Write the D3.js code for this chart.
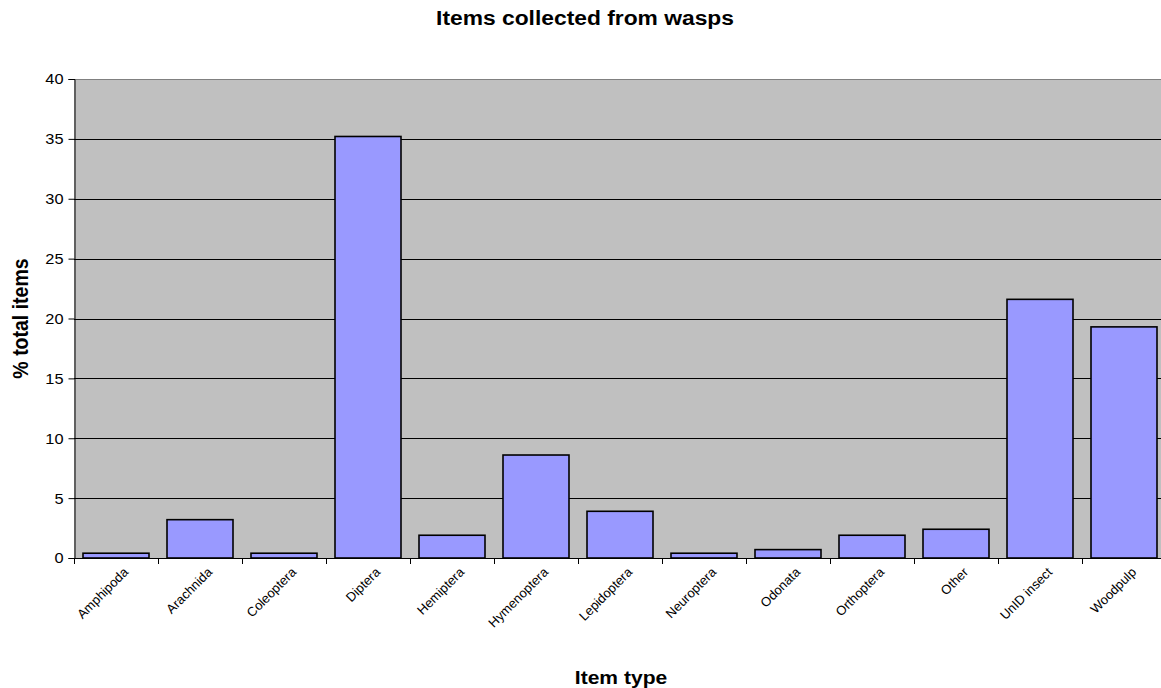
<!DOCTYPE html>
<html>
<head>
<meta charset="utf-8">
<script src="https://cdn.jsdelivr.net/npm/d3@7"></script>
<style>
  html, body { margin: 0; padding: 0; background: #ffffff; }
  svg { display: block; font-family: "Liberation Sans", Arial, sans-serif; }
</style>
</head>
<body>
<svg id="chart" width="1161" height="688"></svg>
<script>
// Item categories and their share of all items (%)
const categories = ["Amphipoda", "Arachnida", "Coleoptera", "Diptera", "Hemiptera",
  "Hymenoptera", "Lepidoptera", "Neuroptera", "Odonata", "Orthoptera", "Other",
  "UnID insect", "Woodpulp"];
const percentItems = [0.4, 3.2, 0.4, 35.2, 1.9, 8.6, 3.9, 0.4, 0.7, 1.9, 2.4, 21.6, 19.3];
const yTicks = [0, 5, 10, 15, 20, 25, 30, 35, 40];

const chartTitle = "Items collected from wasps";
const xTitle = "Item type";
const yTitle = "% total items";

// horizontal text stretch
const SX = 1.17;

const svg = d3.select("#chart");
const plot = { left: 74, top: 79, width: 1092, height: 479 };

const x = d3.scaleBand()
  .domain(categories)
  .range([plot.left, plot.left + plot.width])
  .paddingInner(18 / 84)
  .paddingOuter(9 / 84);

const y = d3.scaleLinear()
  .domain([0, 40])
  .range([plot.top + plot.height, plot.top]);

// plot background
svg.append("rect")
  .attr("x", plot.left).attr("y", plot.top)
  .attr("width", plot.width).attr("height", plot.height)
  .attr("fill", "#c0c0c0");

// top border of plot area
svg.append("line")
  .attr("x1", plot.left).attr("x2", plot.left + plot.width)
  .attr("y1", plot.top + 0.5).attr("y2", plot.top + 0.5)
  .attr("stroke", "#808080").attr("stroke-width", 1);

// horizontal gridlines
svg.append("g")
  .selectAll("line")
  .data(yTicks.filter(t => t > 0 && t < 40))
  .join("line")
  .attr("x1", plot.left).attr("x2", plot.left + plot.width)
  .attr("y1", d => Math.round(y(d)) + 0.5).attr("y2", d => Math.round(y(d)) + 0.5)
  .attr("stroke", "#000").attr("stroke-width", 1);

// bars
svg.append("g")
  .selectAll("rect")
  .data(categories.map((c, i) => ({ c, v: percentItems[i] })))
  .join("rect")
  .attr("x", d => x(d.c))
  .attr("y", d => y(d.v))
  .attr("width", x.bandwidth())
  .attr("height", d => y(0) - y(d.v))
  .attr("fill", "#9999ff")
  .attr("stroke", "#000")
  .attr("stroke-width", 1.6);

// y axis
const yAxis = d3.axisLeft(y).tickValues(yTicks).tickSize(6).tickFormat(d3.format("d"));
const gy = svg.append("g")
  .attr("transform", `translate(${plot.left + 0.5},0)`)
  .call(yAxis);
gy.select(".domain").attr("stroke", "#000");
gy.selectAll(".tick line").attr("stroke", "#000");
gy.selectAll(".tick text")
  .attr("font-size", 14)
  .attr("fill", "#000")
  .attr("x", 0)
  .attr("dy", "0.35em")
  .attr("transform", `translate(-11,0) scale(${SX},1)`)
  .attr("font-family", "Liberation Sans, Arial, sans-serif");

// x axis: ticks on band boundaries
const xAxisY = plot.top + plot.height;
svg.append("line")
  .attr("x1", plot.left).attr("x2", plot.left + plot.width)
  .attr("y1", xAxisY + 0.5).attr("y2", xAxisY + 0.5)
  .attr("stroke", "#000");
const boundaries = d3.range(categories.length + 1).map(i => plot.left + i * x.step());
svg.append("g")
  .selectAll("line")
  .data(boundaries)
  .join("line")
  .attr("x1", d => Math.round(d) + 0.5).attr("x2", d => Math.round(d) + 0.5)
  .attr("y1", xAxisY).attr("y2", xAxisY + 6)
  .attr("stroke", "#000");

// category labels, rotated 45 degrees
svg.append("g")
  .selectAll("text")
  .data(categories)
  .join("text")
  .attr("transform", d => `translate(${x(d) + x.bandwidth() / 2 + 13},${xAxisY + 15}) rotate(-45)`)
  .attr("text-anchor", "end")
  .attr("font-size", 13)
  .attr("fill", "#000")
  .text(d => d);

// titles
svg.append("text")
  .attr("transform", `translate(585,25) scale(${SX},1)`)
  .attr("text-anchor", "middle")
  .attr("font-size", 19.5).attr("font-weight", "bold")
  .text(chartTitle);

svg.append("text")
  .attr("transform", `translate(621,684) scale(${SX},1)`)
  .attr("text-anchor", "middle")
  .attr("font-size", 18).attr("font-weight", "bold")
  .text(xTitle);

svg.append("text")
  .attr("transform", `translate(28,${(plot.top + xAxisY) / 2}) scale(${SX},1) rotate(-90)`)
  .attr("text-anchor", "middle")
  .attr("font-size", 19.5).attr("font-weight", "bold")
  .text(yTitle);
</script>
</body>
</html>
